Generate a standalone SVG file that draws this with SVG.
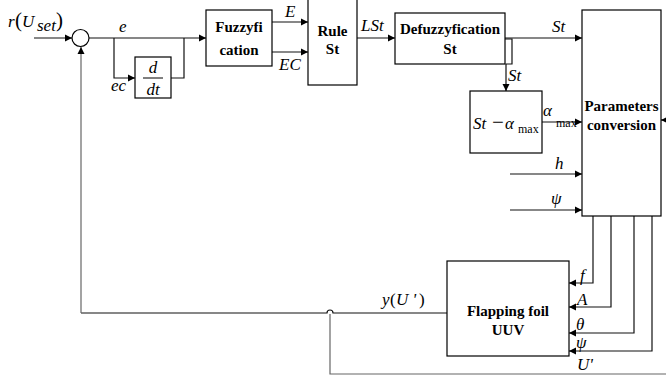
<svg xmlns="http://www.w3.org/2000/svg" width="666" height="375" viewBox="0 0 666 375">
<style>
.b{fill:#fff;stroke:#000;stroke-width:1.2}
.l{fill:none;stroke:#111;stroke-width:1.2}
.g{fill:none;stroke:#666;stroke-width:1.2}
.t{font-weight:bold;font-size:15px;text-anchor:middle}
.m{font-style:italic;font-size:17px}
.s{font-size:12px}
</style>
<defs>
<marker id="a" markerWidth="8" markerHeight="8" refX="7" refY="4" orient="auto" markerUnits="userSpaceOnUse">
<path d="M0,0.5 L7,4 L0,7.5 z" fill="#000"/>
</marker>
</defs>
<rect width="666" height="375" fill="#fff"/>
<g id="connectors">
<path class="l" d="M34,38 H72" marker-end="url(#a)"/>
<path class="l" d="M89,38 H206" marker-end="url(#a)"/>
<path class="l" d="M114,38 V78 H135" marker-end="url(#a)"/>
<path class="l" d="M171,78 H184 V38"/>
<path class="l" d="M272,22 H308" marker-end="url(#a)"/>
<path class="l" d="M272,52 H308" marker-end="url(#a)"/>
<path class="l" d="M357,38 H395" marker-end="url(#a)"/>
<path class="l" d="M505,38 H582" marker-end="url(#a)"/>
<path class="l" d="M505,39 H512 V64 H506 V91" marker-end="url(#a)"/>
<path class="l" d="M542,122 H582" marker-end="url(#a)"/>
<path class="l" d="M510,174 H582" marker-end="url(#a)"/>
<path class="l" d="M510,210 H582" marker-end="url(#a)"/>
<path class="l" d="M666,120 H661" marker-end="url(#a)"/>
<path class="l" d="M593,216 V283 H569" marker-end="url(#a)"/>
<path class="l" d="M611,216 V307 H569" marker-end="url(#a)"/>
<path class="l" d="M634,216 V333 H569" marker-end="url(#a)"/>
<path class="l" d="M652,216 V351 H569" marker-end="url(#a)"/>
<path class="l" d="M447,313 H333 A3,3 0 0 0 327,313 H81"/>
<path class="g" d="M81,313 V47" marker-end="url(#a)"/>
<path class="g" d="M330,314 V374 H666"/>
</g>
<g id="sum"><circle cx="80.5" cy="38" r="8.5" class="b"/></g>
<g id="ddt">
<rect x="135" y="57" width="36" height="41" class="b"/>
<text font-family="Liberation Serif" x="153" y="73" class="m" text-anchor="middle" font-size="18">d</text>
<line x1="143" y1="78" x2="163" y2="78" stroke="#000" stroke-width="1"/>
<text font-family="Liberation Serif" x="153" y="95" class="m" text-anchor="middle" font-size="18">dt</text>
</g>
<g id="fuzzy">
<rect x="206" y="10" width="66" height="56" class="b"/>
<text font-family="Liberation Serif" x="239" y="32" class="t" font-size="18">Fuzzyfi</text>
<text font-family="Liberation Serif" x="239" y="55" class="t" font-size="18">cation</text>
</g>
<g id="rule">
<rect x="308" y="-1" width="49" height="86" class="b"/>
<text font-family="Liberation Serif" x="332.5" y="36" class="t" font-size="18">Rule</text>
<text font-family="Liberation Serif" x="332.5" y="54" class="t" font-size="15">St</text>
</g>
<g id="defuzzy">
<rect x="395" y="13" width="110" height="51" class="b"/>
<text font-family="Liberation Serif" x="450" y="34" class="t" font-size="14">Defuzzyfication</text>
<text font-family="Liberation Serif" x="450" y="54" class="t" font-size="14">St</text>
</g>
<g id="stalpha">
<rect x="470" y="91" width="72" height="62" class="b"/>
<text font-family="Liberation Serif" x="473" y="129" class="m" font-size="21">St</text>
<text font-family="Liberation Serif" x="492" y="129" font-size="21">−</text>
<text font-family="Liberation Serif" x="505" y="129" class="m" font-size="21">α</text>
<text font-family="Liberation Serif" x="518" y="133" class="s" font-size="13">max</text>
</g>
<g id="params">
<rect x="582" y="10" width="79" height="206" class="b"/>
<text font-family="Liberation Serif" x="621.5" y="111" class="t" font-size="15">Parameters</text>
<text font-family="Liberation Serif" x="621.5" y="130" class="t" font-size="15">conversion</text>
</g>
<g id="uuv">
<rect x="447" y="261" width="122" height="95" class="b"/>
<text font-family="Liberation Serif" x="508" y="316" class="t" font-size="15">Flapping foil</text>
<text font-family="Liberation Serif" x="508" y="335" class="t" font-size="15">UUV</text>
</g>
<g id="labels">
<text font-family="Liberation Serif" x="8" y="27" class="m" font-size="21">r</text>
<text font-family="Liberation Serif" x="15" y="27" font-size="21">(</text>
<text font-family="Liberation Serif" x="22" y="27" class="m" font-size="21">U</text>
<text font-family="Liberation Serif" x="37" y="31" class="m" font-size="14">set</text>
<text font-family="Liberation Serif" x="56" y="27" font-size="21">)</text>
<text font-family="Liberation Serif" x="119" y="32" class="m" font-size="19">e</text>
<text font-family="Liberation Serif" x="111" y="91" class="m" font-size="19">ec</text>
<text font-family="Liberation Serif" x="285" y="17" class="m" font-size="16">E</text>
<text font-family="Liberation Serif" x="279" y="70" class="m" font-size="16">EC</text>
<text font-family="Liberation Serif" x="361" y="31" class="m" font-size="19">LSt</text>
<text font-family="Liberation Serif" x="552" y="32" class="m" font-size="17">St</text>
<text font-family="Liberation Serif" x="508" y="81" class="m" font-size="17">St</text>
<text font-family="Liberation Serif" x="543" y="116" class="m" font-size="22">α</text>
<text font-family="Liberation Serif" x="556" y="127" class="s" font-size="12">max</text>
<text font-family="Liberation Serif" x="555" y="169" class="m" font-size="21">h</text>
<text font-family="Liberation Serif" x="551" y="204" class="m" font-size="21">ψ</text>
<text font-family="Liberation Serif" x="580" y="281" class="m" font-size="17">f</text>
<text font-family="Liberation Serif" x="577" y="305" class="m" font-size="15">A</text>
<text font-family="Liberation Serif" x="576" y="330" class="m" font-size="14">θ</text>
<text font-family="Liberation Serif" x="576" y="348" class="m" font-size="14">ψ</text>
<text font-family="Liberation Serif" x="577" y="370" class="m" font-size="16">U'</text>
<text font-family="Liberation Serif" x="382" y="305" class="m" font-size="17">y</text>
<text font-family="Liberation Serif" x="390" y="305" font-size="17">(</text>
<text font-family="Liberation Serif" x="396" y="305" class="m" font-size="17">U '</text>
<text font-family="Liberation Serif" x="419" y="305" font-size="17">)</text>
</g>
</svg>
